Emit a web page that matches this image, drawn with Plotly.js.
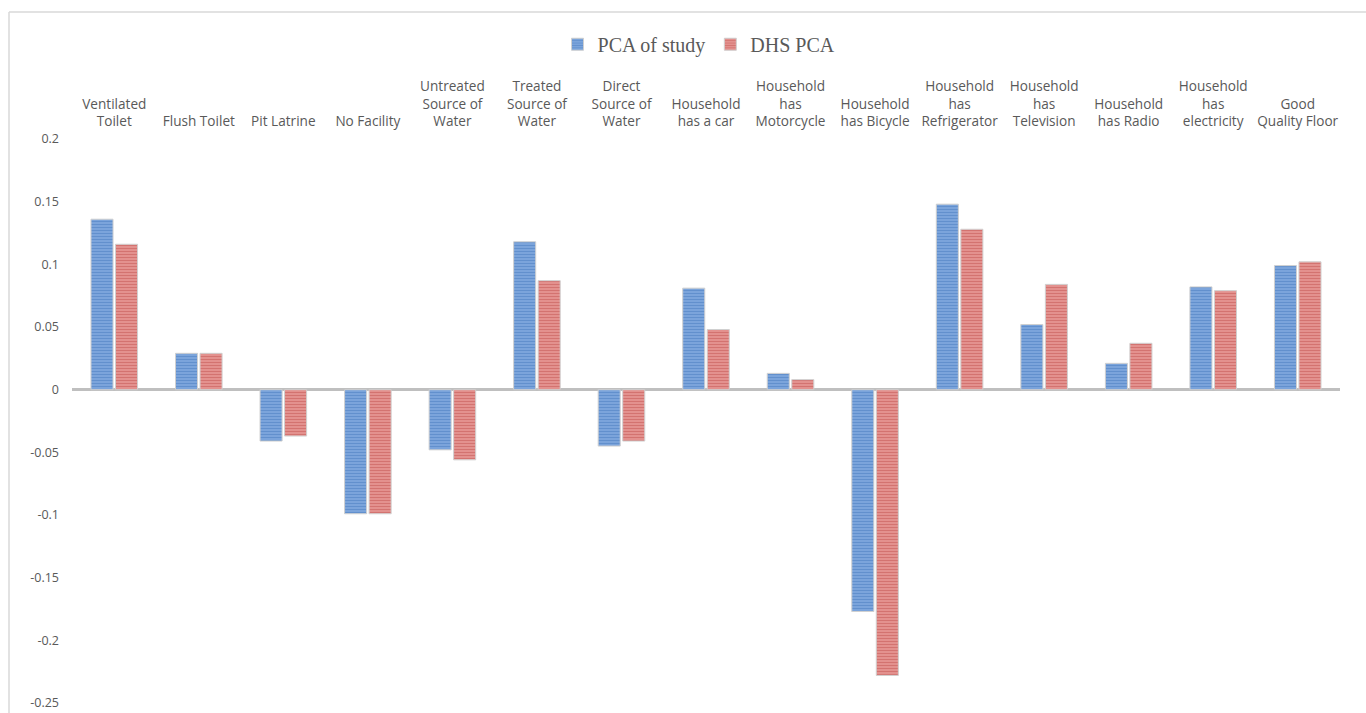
<!DOCTYPE html>
<html>
<head>
<meta charset="utf-8">
<script src="https://cdn.plot.ly/plotly-3.0.1.min.js"></script>
<style>html,body{margin:0;padding:0;background:#fff;}#chart{width:1366px;height:713px;}</style>
</head>
<body>
<div id="chart"></div>
<script>
const categories = [
  "Ventilated<br>Toilet", "Flush Toilet", "Pit Latrine", "No Facility",
  "Untreated<br>Source of<br>Water", "Treated<br>Source of<br>Water", "Direct<br>Source of<br>Water",
  "Household<br>has a car", "Household<br>has<br>Motorcycle", "Household<br>has Bicycle",
  "Household<br>has<br>Refrigerator", "Household<br>has<br>Television", "Household<br>has Radio",
  "Household<br>has<br>electricity", "Good<br>Quality Floor"
];
const pcaStudy = [0.136, 0.029, -0.041, -0.099, -0.048, 0.118, -0.045, 0.081, 0.013, -0.177, 0.148, 0.052, 0.021, 0.082, 0.099];
const dhsPca   = [0.116, 0.029, -0.037, -0.099, -0.056, 0.087, -0.041, 0.048, 0.008, -0.228, 0.128, 0.084, 0.037, 0.079, 0.102];
const yTickVals = [0.2, 0.15, 0.1, 0.05, 0, -0.05, -0.1, -0.15, -0.2, -0.25];
const yTickText = ["0.2", "0.15", "0.1", "0.05", "0", "-0.05", "-0.1", "-0.15", "-0.2", "-0.25"];

const traces = [
  {
    type: 'bar', name: 'PCA of study', x: categories, y: pcaStudy,
    marker: {
      color: '#7EA6DC',
      pattern: {shape: '-', bgcolor: '#82AADF', fgcolor: '#4275BC', size: 3, solidity: 0.5, fillmode: 'overlay'},
      line: {color: '#D0D0D0', width: 1}
    }
  },
  {
    type: 'bar', name: 'DHS PCA', x: categories, y: dhsPca,
    marker: {
      color: '#E49593',
      pattern: {shape: '-', bgcolor: '#E89A98', fgcolor: '#BE4B48', size: 3, solidity: 0.5, fillmode: 'overlay'},
      line: {color: '#D0D0D0', width: 1}
    }
  }
];

const layout = {
  width: 1366, height: 713,
  margin: {l: 72, r: 26, t: 139, b: 10},
  paper_bgcolor: '#ffffff', plot_bgcolor: '#ffffff',
  barmode: 'group', bargap: 0.42, bargroupgap: 0.1,
  showlegend: true,
  legend: {
    orientation: 'h', x: 0.4945, xanchor: 'center', y: 1.168, yanchor: 'middle',
    font: {family: 'Liberation Serif, serif', size: 20, color: '#595959'},
    itemwidth: 30
  },
  xaxis: {
    side: 'top', type: 'category',
    showgrid: false, showline: false, zeroline: false, ticks: '',
    tickfont: {family: 'Open Sans, sans-serif', size: 13.6, color: '#595959'},
    tickangle: 0, ticklabelstandoff: 9
  },
  yaxis: {
    range: [-0.25, 0.2], showgrid: false, showline: false,
    zeroline: true, zerolinecolor: '#BFBFBF', zerolinewidth: 2.5,
    tickvals: yTickVals, ticktext: yTickText, ticks: '',
    tickfont: {family: 'Open Sans, sans-serif', size: 12.5, color: '#595959'},
    ticklabelstandoff: 12
  },
  shapes: [
    {type: 'line', xref: 'paper', yref: 'paper', x0: -63/1268, x1: 1.1, y0: 1 + 127/564, y1: 1 + 127/564, line: {color: '#D9D9D9', width: 1.5}},
    {type: 'line', xref: 'paper', yref: 'paper', x0: -63/1268, x1: -63/1268, y0: 1 + 127/564, y1: -0.1, line: {color: '#D9D9D9', width: 1.5}}
  ]
};

Plotly.newPlot('chart', traces, layout, {displayModeBar: false, staticPlot: true});
</script>
</body>
</html>
